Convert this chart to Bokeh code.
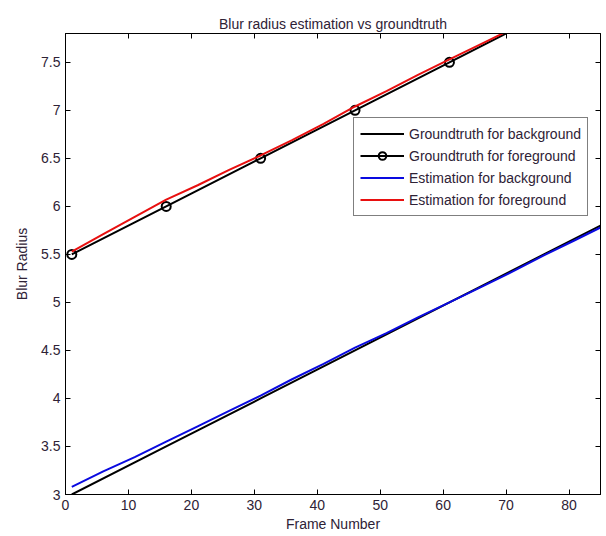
from bokeh.plotting import figure
from bokeh.models import (LinearAxis, Range1d, Legend, LegendItem,
                          NumeralTickFormatter, FixedTicker, CustomJSTickFormatter)
from bokeh.embed import file_html
from bokeh.resources import INLINE

# ---- data ----
frames_gt_bg = [1, 16, 31, 46, 61, 76, 85]
gt_background = [3.0, 3.5, 4.0, 4.5, 5.0, 5.5, 5.8]

frames_gt_fg = [1, 16, 31, 46, 61, 76]
gt_foreground = [5.5, 6.0, 6.5, 7.0, 7.5, 8.0]

frames_est = [1, 6, 11, 16, 21, 26, 31, 36, 41, 46, 51, 56, 61, 66, 71, 76, 81, 85]
est_background = [3.08, 3.24, 3.39, 3.55, 3.71, 3.87, 4.03, 4.20, 4.36, 4.53,
                  4.68, 4.845, 5.00, 5.16, 5.32, 5.49, 5.65, 5.78]
est_foreground = [5.53, 5.71, 5.89, 6.07, 6.22, 6.38, 6.53, 6.69, 6.86, 7.04,
                  7.20, 7.37, 7.53, 7.69, 7.85, 8.02, 8.19, 8.32]

x_ticks = [0, 10, 20, 30, 40, 50, 60, 70, 80]
y_ticks = [3, 3.5, 4, 4.5, 5, 5.5, 6, 6.5, 7, 7.5]

title_text = "Blur radius estimation vs groundtruth"
x_label = "Frame Number"
y_label = "Blur Radius"
legend_labels = ["Groundtruth for background", "Groundtruth for foreground",
                 "Estimation for background", "Estimation for foreground"]

TXT = "#2e2236"
FONT = "Liberation Sans"

p = figure(width=606, height=536, output_backend="svg", toolbar_location=None,
           x_range=Range1d(0, 85), y_range=Range1d(3, 7.8),
           min_border_left=65, min_border_right=6, min_border_top=33,
           min_border_bottom=42)
p.title.text = title_text
p.title.align = "center"
p.title.text_font = FONT
p.title.text_font_size = "14px"
p.title.text_font_style = "normal"
p.title.text_color = TXT
p.title.standoff = 4

p.xgrid.visible = False
p.ygrid.visible = False
p.outline_line_color = "black"
p.outline_line_width = 1
p.background_fill_color = "white"
p.border_fill_color = "white"

def style_axis(ax, labels=True):
    ax.axis_line_color = "black"
    ax.major_tick_line_color = "black"
    ax.major_tick_in = 5
    ax.major_tick_out = 0
    ax.minor_tick_line_color = None
    ax.major_label_text_font = FONT
    ax.major_label_text_color = TXT
    ax.major_label_text_font_size = "14px"
    if not labels:
        ax.formatter = CustomJSTickFormatter(code="return '';")
        ax.major_label_standoff = 0

xa = p.xaxis[0]
ya = p.yaxis[0]
xa.ticker = FixedTicker(ticks=x_ticks)
ya.ticker = FixedTicker(ticks=y_ticks)
xa.formatter = NumeralTickFormatter(format="0.[0]")
ya.formatter = NumeralTickFormatter(format="0.[0]")
style_axis(xa)
style_axis(ya)
xa.major_label_standoff = 5
ya.major_label_standoff = 5
xa.axis_label = x_label
ya.axis_label = y_label
for ax in (xa, ya):
    ax.axis_label_text_font = FONT
    ax.axis_label_text_font_size = "14px"
    ax.axis_label_text_font_style = "normal"
    ax.axis_label_text_color = TXT
xa.axis_label_standoff = 3
ya.axis_label_standoff = 8

top_ax = LinearAxis(ticker=FixedTicker(ticks=x_ticks))
right_ax = LinearAxis(ticker=FixedTicker(ticks=y_ticks))
style_axis(top_ax, labels=False)
style_axis(right_ax, labels=False)
p.add_layout(top_ax, "above")
p.add_layout(right_ax, "right")

r1 = p.line(frames_gt_bg, gt_background, line_color="black", line_width=2)
r2 = p.line(frames_gt_fg, gt_foreground, line_color="black", line_width=2)
r2m = p.scatter(frames_gt_fg, gt_foreground, marker="circle", size=9,
                fill_color=None, line_color="black", line_width=2)
r3 = p.line(frames_est, est_background, line_color="#0a0ae0", line_width=2)
r4 = p.line(frames_est, est_foreground, line_color="#e81010", line_width=2)

legend = Legend(items=[
    LegendItem(label=legend_labels[0], renderers=[r1]),
    LegendItem(label=legend_labels[1], renderers=[r2, r2m]),
    LegendItem(label=legend_labels[2], renderers=[r3]),
    LegendItem(label=legend_labels[3], renderers=[r4]),
], location=(288, 278))
legend.border_line_color = "black"
legend.border_line_width = 1
legend.background_fill_color = "white"
legend.background_fill_alpha = 1
legend.padding = 6
legend.spacing = 3
legend.margin = 0
legend.glyph_width = 44
legend.glyph_height = 19
legend.label_height = 19
legend.label_standoff = 5
legend.label_text_font = FONT
legend.label_text_font_size = "14px"
legend.label_text_color = TXT
p.add_layout(legend, "center")

open("out.html", "w").write(file_html(p, INLINE))
